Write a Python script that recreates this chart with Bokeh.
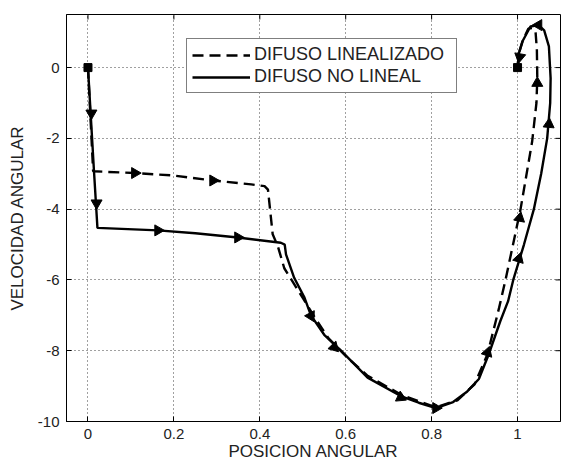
from bokeh.plotting import figure
from bokeh.models import Range1d, FixedTicker, Legend, LegendItem
from bokeh.embed import file_html
from bokeh.resources import INLINE

# ---------------- data ----------------
# DIFUSO LINEALIZADO (dashed)
lin_x = [0.0, 0.012, 0.109, 0.2, 0.291, 0.38, 0.411, 0.419, 0.430, 0.442, 0.457,
         0.480, 0.500, 0.530, 0.560, 0.600, 0.650, 0.730, 0.810, 0.860, 0.900,
         0.930, 0.957, 0.972, 1.007, 1.034, 1.044, 1.046, 1.045, 1.042, 1.035,
         1.025, 1.012, 1.003, 1.0]
lin_y = [0.0, -2.93, -2.98, -3.05, -3.19, -3.30, -3.35, -3.45, -4.71, -5.05, -5.67,
         -6.12, -6.51, -7.10, -7.65, -8.15, -8.70, -9.25, -9.60, -9.40, -8.95,
         -8.10, -6.79, -6.00, -4.00, -2.09, -1.00, -0.30, 0.50, 1.00, 1.12,
         1.10, 0.75, 0.40, 0.0]

# DIFUSO NO LINEAL (solid)
nl_x = [0.0, 0.014, 0.022, 0.163, 0.250, 0.349, 0.449, 0.458, 0.461, 0.480,
        0.504, 0.519, 0.550, 0.589, 0.651, 0.728, 0.770, 0.810, 0.850, 0.883,
        0.910, 0.933, 0.960, 0.978, 0.990, 1.015, 1.038, 1.055, 1.069, 1.076,
        1.077, 1.073, 1.062, 1.049, 1.030, 1.011, 1.003, 1.0]
nl_y = [0.0, -2.93, -4.53, -4.60, -4.68, -4.80, -4.95, -5.00, -5.28, -5.94,
        -6.50, -7.00, -7.55, -8.00, -8.76, -9.28, -9.47, -9.62, -9.45, -9.15,
        -8.80, -8.10, -7.16, -6.60, -6.00, -5.00, -4.00, -3.00, -2.00, -1.00,
        -0.30, 0.60, 1.05, 1.20, 1.16, 0.73, 0.40, 0.0]

# direction markers along the trajectories
arrow_x = [0.008, 0.020, 0.109, 0.291, 0.163, 0.349, 0.519, 0.573, 0.728,
           0.810, 0.930, 1.005, 1.003, 1.046, 1.073, 1.049, 1.005]
arrow_y = [-1.29, -3.83, -2.98, -3.19, -4.60, -4.80, -7.02, -7.90, -9.32,
           -9.62, -8.05, -4.25, -5.40, -0.44, -1.60, 1.20, 0.30]

# start / end points
end_x = [0.0, 1.0]
end_y = [0.0, 0.0]

x_ticks = [0, 0.2, 0.4, 0.6, 0.8, 1.0]
x_tick_labels = ["0", "0.2", "0.4", "0.6", "0.8", "1"]
y_ticks = [-10, -8, -6, -4, -2, 0]
y_tick_labels = ["-10", "-8", "-6", "-4", "-2", "0"]

series_labels = ["DIFUSO LINEALIZADO", "DIFUSO NO LINEAL"]
x_label = "POSICION ANGULAR"
y_label = "VELOCIDAD ANGULAR"

# marker orientation (degrees, counter-clockwise from "up")
arrow_rot = [180, 180, -90, -90, -90, -90, -152, -136, -115,
             -90, -18, -11, -17, 0, -5, 90, 170]

X_MIN, X_MAX, Y_MIN, Y_MAX = -0.05, 1.1, -10, 1.5

# ---------------- figure ----------------
FONT = "Liberation Sans"

p = figure(width=565, height=466, x_range=Range1d(X_MIN, X_MAX), y_range=Range1d(Y_MIN, Y_MAX),
           output_backend="svg", toolbar_location=None, title=None,
           min_border_left=66, min_border_right=5, min_border_top=14, min_border_bottom=45,
           background_fill_color="white", border_fill_color="white")

p.outline_line_color = "black"
p.outline_line_width = 1

for ax, ticks, labels in ((p.xaxis[0], x_ticks, x_tick_labels), (p.yaxis[0], y_ticks, y_tick_labels)):
    ax.ticker = FixedTicker(ticks=ticks)
    ax.major_label_overrides = {t: l for t, l in zip(ticks, labels)}
    ax.major_tick_in = 5
    ax.major_tick_out = 0
    ax.minor_tick_line_color = None
    ax.axis_line_color = "black"
    ax.major_tick_line_color = "black"
    ax.major_label_text_font = FONT
    ax.major_label_text_font_size = "15px"
    ax.major_label_text_color = "#222222"
    ax.axis_label_text_font = FONT
    ax.axis_label_text_font_size = "17px"
    ax.axis_label_text_font_style = "normal"
    ax.axis_label_text_color = "#222222"
    ax.major_label_standoff = 7

p.xaxis.axis_label = x_label
p.yaxis.axis_label = y_label
p.xaxis.axis_label_standoff = 0
p.yaxis.axis_label_standoff = 8

# box ticks (inward) on the right and top edges
p.ray(x=[X_MAX] * len(y_ticks), y=y_ticks, length=5, length_units="screen",
      angle=180, angle_units="deg", line_color="black", line_width=1)
p.ray(x=x_ticks, y=[Y_MAX] * len(x_ticks), length=5, length_units="screen",
      angle=-90, angle_units="deg", line_color="black", line_width=1)

p.grid.grid_line_color = "black"
p.grid.grid_line_dash = "1 3"
p.grid.grid_line_alpha = 0.75
p.grid.grid_line_width = 1

r_lin = p.line(lin_x, lin_y, line_color="black", line_width=2.4, line_dash="11 6")
r_nl = p.line(nl_x, nl_y, line_color="black", line_width=2.4)

p.scatter(arrow_x, arrow_y, marker="triangle", size=11, angle=arrow_rot, angle_units="deg",
          fill_color="black", line_color="black")
p.scatter(end_x, end_y, marker="square", size=8, fill_color="black", line_color="black")

legend = Legend(items=[LegendItem(label=series_labels[0], renderers=[r_lin]),
                       LegendItem(label=series_labels[1], renderers=[r_nl])],
                location=(120, 328))
legend.border_line_color = "black"
legend.border_line_width = 1
legend.background_fill_color = "white"
legend.background_fill_alpha = 1
legend.label_text_font = FONT
legend.label_text_font_size = "18px"
legend.label_text_color = "#222222"
legend.glyph_width = 58
legend.glyph_height = 20
legend.label_width = 197
legend.padding = 5
legend.spacing = 1
legend.label_standoff = 4
legend.margin = 0
p.add_layout(legend)

open("out.html", "w").write(file_html(p, INLINE))
